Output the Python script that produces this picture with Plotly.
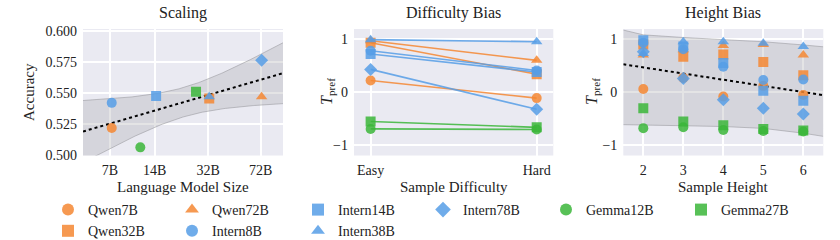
import numpy as np
import plotly.graph_objects as go

# ---------------- data ----------------
models = ["Qwen7B", "Qwen32B", "Qwen72B", "Intern8B", "Intern14B",
          "Intern38B", "Intern78B", "Gemma12B", "Gemma27B"]
families = ["Qwen", "Qwen", "Qwen", "Intern", "Intern", "Intern", "Intern",
            "Gemma", "Gemma"]
symbols = ["circle", "square", "triangle-up", "circle", "square",
           "triangle-up", "diamond", "circle", "square"]

# Scaling panel
lm_size = [7.2, 32.5, 73.0, 7.2, 14.3, 32.5, 73.0, 11.2, 26.5]
accuracy = [0.5217, 0.5456, 0.547, 0.542, 0.5475, 0.547, 0.5765, 0.506, 0.551]
size_tick_vals = [7, 14, 32, 72]
size_tick_text = ["7B", "14B", "32B", "72B"]

# Difficulty panel
difficulty_labels = ["Easy", "Hard"]
t_easy = [0.22, 0.93, 0.97, 0.78, 0.72, 0.99, 0.43, -0.69, -0.55]
t_hard = [-0.11, 0.34, 0.60, 0.41, 0.38, 0.95, -0.32, -0.70, -0.66]

# Height panel
heights = [2, 3, 4, 5, 6]
h_qwen7b = [0.06, 0.27, -0.08, 0.12, -0.05]
h_qwen32b = [0.90, 0.67, 0.71, 0.57, 0.32]
h_qwen72b = [0.70, 0.80, 0.88, 0.90, 0.70]
h_intern8b = [0.93, 0.81, 0.48, 0.23, 0.24]
h_intern14b = [0.98, 0.86, 0.55, 0.03, -0.16]
h_intern38b = [0.73, 0.95, 0.95, 0.92, 0.86]
h_intern78b = [0.76, 0.26, -0.14, -0.30, -0.41]
h_gemma12b = [-0.675, -0.66, -0.71, -0.73, -0.74]
h_gemma27b = [-0.30, -0.55, -0.62, -0.69, -0.72]
height_series = [h_qwen7b, h_qwen32b, h_qwen72b, h_intern8b, h_intern14b,
                 h_intern38b, h_intern78b, h_gemma12b, h_gemma27b]

# Height panel confidence band
band_x = [1.5, 2, 3, 4, 5, 6, 6.5]
band_hi = [1.17, 1.08, 1.03, 0.99, 0.95, 0.89, 0.855]
band_lo = [-0.61, -0.62, -0.63, -0.645, -0.68, -0.77, -0.83]

# ---------------- style ----------------
FONT = "Liberation Serif, Times New Roman, Times, DejaVu Serif, serif"
BG = "#EAEAF2"
fam_color = {"Qwen": (245, 135, 51), "Intern": (86, 158, 230), "Gemma": (59, 182, 57)}
ALPHA = 0.85


def rgba(c, a):
    return "rgba(%d,%d,%d,%.2f)" % (c[0], c[1], c[2], a)


# legend layout (matplotlib column-major with 6 columns)
legend_col = {"Qwen7B": "legend", "Qwen32B": "legend", "Qwen72B": "legend2",
              "Intern8B": "legend2", "Intern14B": "legend3", "Intern38B": "legend3",
              "Intern78B": "legend4", "Gemma12B": "legend5", "Gemma27B": "legend6"}
legend_x_px = [67, 191, 317, 442, 565, 700]

MS = 10
fig = go.Figure()

# ---------------- panel 1: Scaling ----------------
x_lo, x_hi = 0.6645, 2.007
lx = np.log10(np.array(lm_size))
ya = np.array(accuracy)
n = len(lx)
slope, icpt = np.polyfit(lx, ya, 1)
resid = ya - (icpt + slope * lx)
s = np.sqrt((resid ** 2).sum() / (n - 2))
xs = np.linspace(x_lo, x_hi, 150)
yhat = icpt + slope * xs
se = s * np.sqrt(1.0 / n + (xs - lx.mean()) ** 2 / ((lx - lx.mean()) ** 2).sum())
tval = 2.3646  # t(0.975, df=7)
up, dn = yhat + tval * se, yhat - tval * se

band_line = dict(color="rgba(150,150,155,0.55)", width=1)
band_fill = "rgba(165,165,170,0.30)"
fig.add_trace(go.Scatter(x=10 ** xs, y=dn, mode="lines", line=band_line,
                         showlegend=False, hoverinfo="skip", xaxis="x", yaxis="y"))
fig.add_trace(go.Scatter(x=10 ** xs, y=up, mode="lines", line=band_line, fill="tonexty",
                         fillcolor=band_fill, showlegend=False, hoverinfo="skip",
                         xaxis="x", yaxis="y"))
fig.add_trace(go.Scatter(x=10 ** xs, y=yhat, mode="lines",
                         line=dict(color="black", width=2, dash="dot"),
                         showlegend=False, hoverinfo="skip", xaxis="x", yaxis="y"))

for i, m in enumerate(models):
    c = fam_color[families[i]]
    fig.add_trace(go.Scatter(
        x=[lm_size[i]], y=[accuracy[i]], mode="markers", name=m,
        marker=dict(symbol=symbols[i], size=MS, color=rgba(c, ALPHA), line=dict(width=0)),
        legend=legend_col[m], xaxis="x", yaxis="y"))

# ---------------- panel 2: Difficulty ----------------
for i, m in enumerate(models):
    c = fam_color[families[i]]
    fig.add_trace(go.Scatter(
        x=difficulty_labels, y=[t_easy[i], t_hard[i]], mode="lines+markers",
        line=dict(color=rgba(c, ALPHA), width=1.6),
        marker=dict(symbol=symbols[i], size=MS, color=rgba(c, ALPHA), line=dict(width=0)),
        showlegend=False, xaxis="x2", yaxis="y2"))

# ---------------- panel 3: Height ----------------
fig.add_trace(go.Scatter(x=band_x, y=band_lo, mode="lines", line=band_line,
                         showlegend=False, hoverinfo="skip", xaxis="x3", yaxis="y3"))
fig.add_trace(go.Scatter(x=band_x, y=band_hi, mode="lines", line=band_line, fill="tonexty",
                         fillcolor=band_fill, showlegend=False, hoverinfo="skip",
                         xaxis="x3", yaxis="y3"))
hx = np.array(heights * len(models), dtype=float)
hy = np.concatenate([np.array(h, dtype=float) for h in height_series])
hs, hi = np.polyfit(hx, hy, 1)
hxs = np.linspace(1.5, 6.5, 50)
fig.add_trace(go.Scatter(x=hxs, y=hi + hs * hxs, mode="lines",
                         line=dict(color="black", width=2, dash="dot"),
                         showlegend=False, hoverinfo="skip", xaxis="x3", yaxis="y3"))
for i, m in enumerate(models):
    c = fam_color[families[i]]
    fig.add_trace(go.Scatter(
        x=heights, y=height_series[i], mode="markers",
        marker=dict(symbol=symbols[i], size=MS, color=rgba(c, ALPHA), line=dict(width=0)),
        showlegend=False, xaxis="x3", yaxis="y3"))

# ---------------- layout ----------------
W, H = 840, 240
top_px, bot_px = 29, 155.5
ydom = [1 - bot_px / H, 1 - top_px / H]
p1 = [83, 283]
p2 = [354, 553.3]
p3 = [623.3, 823.3]

tickfont = dict(family=FONT, size=14, color="#222")
axis_common = dict(showgrid=True, gridcolor="white", gridwidth=1.5, zeroline=False,
                   showline=False, ticks="", tickfont=tickfont)

legend_font = dict(family=FONT, size=14, color="#222")
legends = {}
for k, lx_px in enumerate(legend_x_px):
    key = "legend" if k == 0 else "legend%d" % (k + 1)
    legends[key] = dict(x=(lx_px - 19) / W, y=1 - 194 / H, xref="container", yref="container",
                        xanchor="left", yanchor="top", orientation="v",
                        bgcolor="rgba(0,0,0,0)", font=legend_font, traceorder="normal",
                        tracegroupgap=0, itemsizing="constant")

fig.update_layout(
    width=W, height=H, margin=dict(l=0, r=0, t=0, b=0, autoexpand=False),
    paper_bgcolor="white", plot_bgcolor=BG,
    font=dict(family=FONT, size=14, color="#222"),
    xaxis=dict(domain=[p1[0] / W, p1[1] / W], type="log", range=[x_lo, x_hi],
               tickvals=size_tick_vals, ticktext=size_tick_text, anchor="y",
               ticklabelstandoff=4, **axis_common),
    yaxis=dict(domain=ydom, range=[0.4994, 0.6018], tickvals=[0.5, 0.525, 0.55, 0.575, 0.6],
               ticktext=["0.500", "0.525", "0.550", "0.575", "0.600"], anchor="x",
               ticklabelstandoff=5, **axis_common),
    xaxis2=dict(domain=[p2[0] / W, p2[1] / W], type="category", range=[-0.1, 1.1],
                anchor="y2", ticklabelstandoff=4, **axis_common),
    yaxis2=dict(domain=ydom, range=[-1.19, 1.19], tickvals=[-1, 0, 1], anchor="x2",
                ticklabelstandoff=5, **axis_common),
    xaxis3=dict(domain=[p3[0] / W, p3[1] / W], range=[1.5, 6.5], tickvals=heights,
                anchor="y3", ticklabelstandoff=4, **axis_common),
    yaxis3=dict(domain=ydom, range=[-1.19, 1.19], tickvals=[-1, 0, 1], anchor="x3",
                ticklabelstandoff=5, **axis_common),
    **legends,
)

# titles and axis labels
ann = []
def label(text, xp, yp, size=15, angle=0):
    ann.append(dict(text=text, x=xp / W, y=1 - yp / H, xref="paper", yref="paper",
                    showarrow=False, xanchor="center", yanchor="middle", textangle=angle,
                    font=dict(family=FONT, size=size, color="#222")))

label("Scaling", (p1[0] + p1[1]) / 2, 13, size=16)
label("Difficulty Bias", (p2[0] + p2[1]) / 2, 13, size=16)
label("Height Bias", (p3[0] + p3[1]) / 2, 13, size=16)
label("Language Model Size", (p1[0] + p1[1]) / 2, 187)
label("Sample Difficulty", (p2[0] + p2[1]) / 2, 187)
label("Sample Height", (p3[0] + p3[1]) / 2, 187)
label("Accuracy", 29, 92, angle=-90)
label("<i>T</i><sub>pref</sub>", 327, 92, size=16, angle=-90)
label("<i>T</i><sub>pref</sub>", 592, 92, size=16, angle=-90)
fig.update_layout(annotations=ann)

# remove the default page margin so the figure sits at the window origin
fig.write_html("out.html", config={"displayModeBar": False},
               post_script="document.body.style.margin='0';")
